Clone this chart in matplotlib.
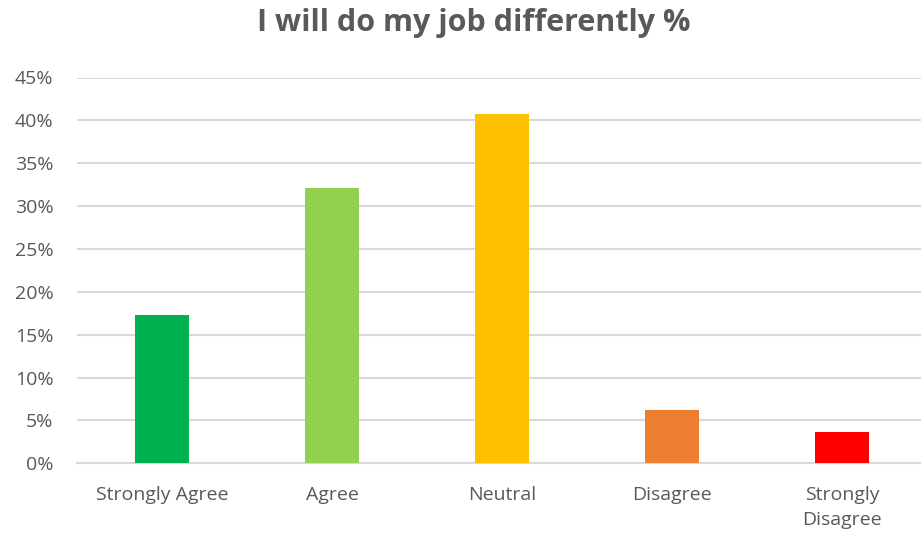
import matplotlib.pyplot as plt
from matplotlib.ticker import PercentFormatter

categories = ["Strongly Agree", "Agree", "Neutral", "Disagree", "Strongly\nDisagree"]
values = [17.3, 32.1, 40.7, 6.2, 3.7]
colors = ["#00b050", "#92d050", "#ffc000", "#ed7d31", "#ff0000"]
y_ticks = [0, 5, 10, 15, 20, 25, 30, 35, 40, 45]

plt.rcParams['font.family'] = ['Open Sans', 'DejaVu Sans']
text_color = "#595959"
grid_color = "#d9d9d9"

fig = plt.figure(figsize=(9.21, 5.35), dpi=100)
ax = fig.add_axes([77 / 921, 71.7 / 535, 1 - 77 / 921, 385.8 / 535])

x = range(len(categories))
ax.bar(x, values, width=0.318, color=colors, zorder=3)

ax.set_ylim(0, 45)
ax.set_xlim(-0.5, 4.465)
ax.set_yticks(y_ticks)
ax.yaxis.set_major_formatter(PercentFormatter(decimals=0))
ax.set_xticks(list(x))
ax.set_xticklabels(categories, linespacing=1.5)

ax.grid(axis='y', color=grid_color, linewidth=1.5, zorder=0)
ax.set_axisbelow(True)
for side in ['top', 'right', 'left']:
    ax.spines[side].set_visible(False)
ax.spines['bottom'].set_color(grid_color)
ax.spines['bottom'].set_linewidth(1.5)

ax.tick_params(axis='y', length=0, pad=17, labelsize=14, labelcolor=text_color)
ax.tick_params(axis='x', length=0, pad=16, labelsize=14, labelcolor=text_color)

fig.text(474 / 921, 1 - 23 / 535, "I will do my job differently %",
         ha='center', va='center', fontsize=22, fontweight='bold', color=text_color)

fig.savefig("out.png", dpi=100)
